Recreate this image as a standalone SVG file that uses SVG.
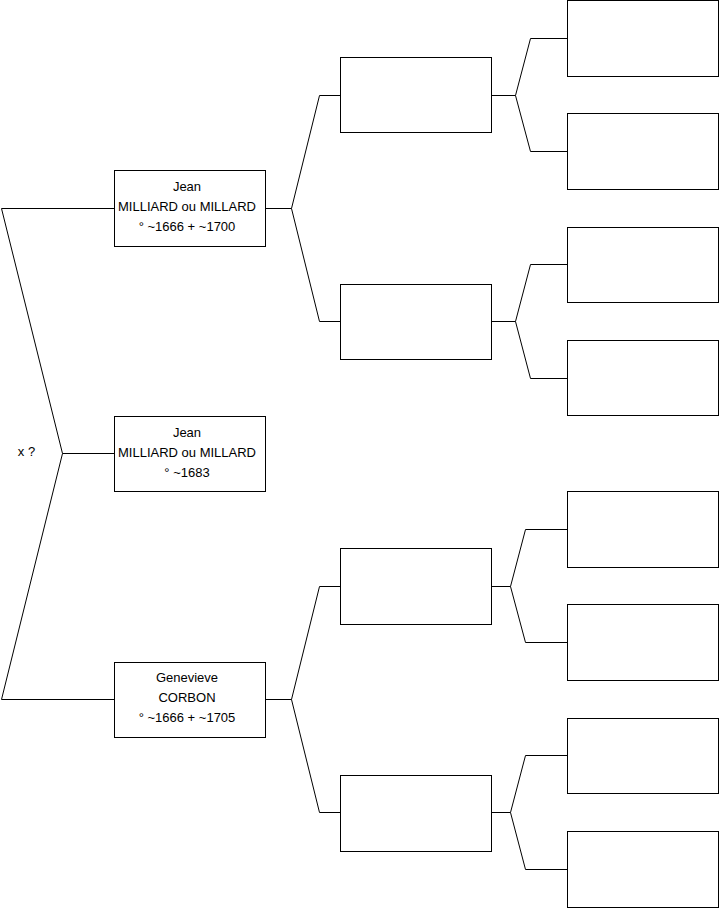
<svg xmlns="http://www.w3.org/2000/svg" width="719" height="908" viewBox="0 0 719 908">
<style>
.b{fill:#fff;stroke:#000;stroke-width:1}
.c{fill:none;stroke:#000;stroke-width:1}
text{font-family:"Liberation Sans",Arial,sans-serif;font-size:13px;fill:#000;text-anchor:middle}
</style>
<rect width="719" height="908" fill="#fff"/>
<g id="connectors">
<polyline class="c" points="114,208.5 1.5,208.5 62.5,453.5 1.5,699.5 114,699.5"/>
<line class="c" x1="62.5" y1="453.5" x2="114" y2="453.5"/>
<polyline class="c" points="340,95.5 319.5,95.5 291.5,208.5 319.5,321.5 340,321.5"/>
<line class="c" x1="265" y1="208.5" x2="291.5" y2="208.5"/>
<polyline class="c" points="340,586.5 319.5,586.5 291.5,699.5 319.5,812.5 340,812.5"/>
<line class="c" x1="265" y1="699.5" x2="291.5" y2="699.5"/>
<polyline class="c" points="567,38.5 530.5,38.5 515.5,95.5 530.5,151.5 567,151.5"/>
<line class="c" x1="491" y1="95.5" x2="515.5" y2="95.5"/>
<polyline class="c" points="567,264.5 530.5,264.5 515.5,321.5 530.5,378.5 567,378.5"/>
<line class="c" x1="491" y1="321.5" x2="515.5" y2="321.5"/>
<polyline class="c" points="567,529.5 525.5,529.5 510.5,586.5 525.5,642.5 567,642.5"/>
<line class="c" x1="491" y1="586.5" x2="510.5" y2="586.5"/>
<polyline class="c" points="567,755.5 525.5,755.5 510.5,812.5 525.5,869.5 567,869.5"/>
<line class="c" x1="491" y1="812.5" x2="510.5" y2="812.5"/>
</g>
<g id="label-x"><text x="26.5" y="456">x ?</text></g>
<g id="p1"><rect class="b" x="114.5" y="170.5" width="151" height="76"/>
<text x="187" y="190.5">Jean</text><text x="187" y="210.5">MILLIARD ou MILLARD</text><text x="187" y="230.5">° ~1666 + ~1700</text></g>
<g id="p0"><rect class="b" x="114.5" y="416.5" width="151" height="75"/>
<text x="187" y="437">Jean</text><text x="187" y="457">MILLIARD ou MILLARD</text><text x="187" y="477">° ~1683</text></g>
<g id="p2"><rect class="b" x="114.5" y="662.5" width="151" height="75"/>
<text x="187" y="682">Genevieve</text><text x="187" y="702">CORBON</text><text x="187" y="722">° ~1666 + ~1705</text></g>
<g id="p3"><rect class="b" x="340.5" y="57.5" width="151" height="75"/></g>
<g id="p4"><rect class="b" x="340.5" y="284.5" width="151" height="75"/></g>
<g id="p5"><rect class="b" x="340.5" y="548.5" width="151" height="76"/></g>
<g id="p6"><rect class="b" x="340.5" y="775.5" width="151" height="76"/></g>
<g id="p7"><rect class="b" x="567.5" y="0.5" width="151" height="76"/></g>
<g id="p8"><rect class="b" x="567.5" y="113.5" width="151" height="76"/></g>
<g id="p9"><rect class="b" x="567.5" y="227.5" width="151" height="75"/></g>
<g id="p10"><rect class="b" x="567.5" y="340.5" width="151" height="75"/></g>
<g id="p11"><rect class="b" x="567.5" y="491.5" width="151" height="76"/></g>
<g id="p12"><rect class="b" x="567.5" y="604.5" width="151" height="76"/></g>
<g id="p13"><rect class="b" x="567.5" y="718.5" width="151" height="75"/></g>
<g id="p14"><rect class="b" x="567.5" y="831.5" width="151" height="76"/></g>
</svg>
